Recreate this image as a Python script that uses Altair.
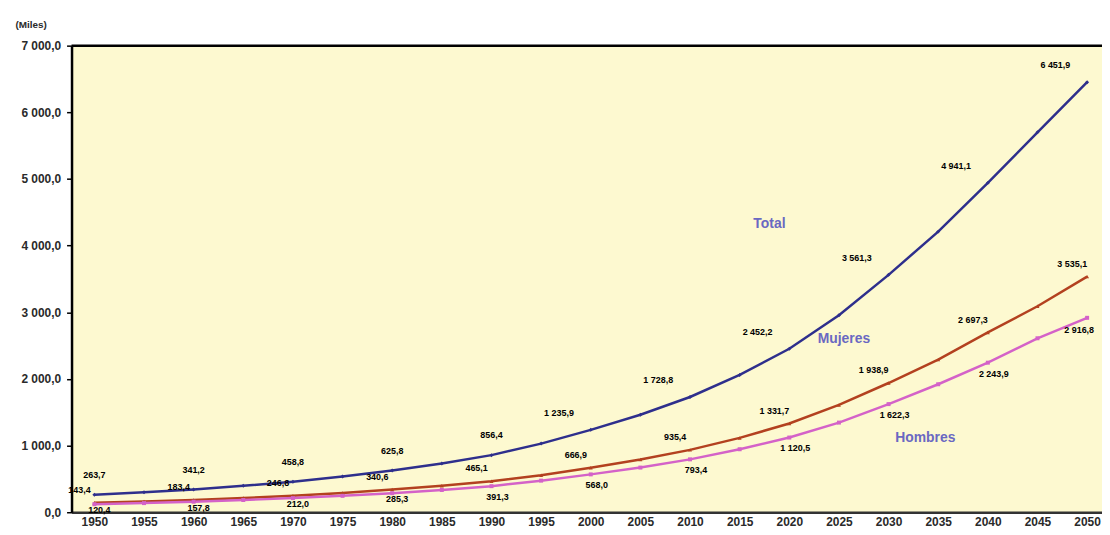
import altair as alt
import pandas as pd

# ---- data ----
years = [1950, 1955, 1960, 1965, 1970, 1975, 1980, 1985, 1990, 1995, 2000,
         2005, 2010, 2015, 2020, 2025, 2030, 2035, 2040, 2045, 2050]
total = [263.7, 300, 341.2, 396, 458.8, 536, 625.8, 732, 856.4, 1030, 1235.9,
         1462, 1728.8, 2060, 2452.2, 2955, 3561.3, 4210, 4941.1, 5700, 6451.9]
mujeres = [143.4, 163, 183.4, 213, 246.8, 290, 340.6, 397, 465.1, 556, 666.9,
           790, 935.4, 1115, 1331.7, 1610, 1938.9, 2290, 2697.3, 3090, 3535.1]
hombres = [120.4, 137, 157.8, 183, 212.0, 246, 285.3, 334, 391.3, 474, 568.0,
           670, 793.4, 945, 1120.5, 1345, 1622.3, 1920, 2243.9, 2610, 2916.8]

series_names = ["Total", "Mujeres", "Hombres"]
series_colors = ["#2E2F8C", "#B3411F", "#D462C8"]
series_shapes = ["diamond", "triangle-up", "square"]

ann_text = ["Total", "Mujeres", "Hombres"]
ann_year = [2018, 2025.5, 2033.7]
ann_value = [4330, 2600, 1116]

y_ticks = [0, 1000, 2000, 3000, 4000, 5000, 6000, 7000]


def fmt(v):
    return f"{v:,.1f}".replace(",", " ").replace(".", ",")


rows = []
for name, vals in zip(series_names, [total, mujeres, hombres]):
    for yr, v in zip(years, vals):
        rows.append({"year": yr, "value": v, "serie": name,
                     "label": fmt(v), "decade": yr % 10 == 0})
df = pd.DataFrame(rows)
ann = pd.DataFrame({"text": ann_text, "year": ann_year, "value": ann_value})

FONT = "Liberation Sans"

x_enc = alt.X("year:Q",
              scale=alt.Scale(domain=[1947.7, 2051.5], nice=False, zero=False),
              axis=alt.Axis(values=years, format="d", title=None, grid=False,
                            ticks=False, labelFontSize=12, labelFontWeight="bold",
                            labelColor="#2a2a2a", labelFont=FONT, labelPadding=4,
                            domainColor="#333333", domainWidth=2.5,
                            labelOverlap=False, labelBound=False))
y_enc = alt.Y("value:Q",
              scale=alt.Scale(domain=[0, 7000], nice=False),
              axis=alt.Axis(values=y_ticks, grid=False, title="(Miles)",
                            labelExpr="datum.value == 0 ? '0,0' : floor(datum.value/1000) + ' 000,0'",
                            labelFontSize=12, labelFontWeight="bold", labelColor="#2a2a2a",
                            labelFont=FONT, labelPadding=6, tickSize=5, tickColor="black",
                            tickWidth=1.5, domainColor="black", domainWidth=2.5,
                            titleAngle=0, titleAlign="left", titleBaseline="bottom",
                            titleX=-57, titleY=-16, titleFontSize=10,
                            titleFontWeight="bold", titleFont=FONT, titleColor="#2a2a2a"))
color_enc = alt.Color("serie:N", scale=alt.Scale(domain=series_names, range=series_colors),
                      legend=None)

base = alt.Chart(df).encode(x=x_enc, y=y_enc, color=color_enc)

lines = base.mark_line(strokeWidth=2.5)
points = base.mark_point(filled=True, size=16, opacity=1).encode(
    shape=alt.Shape("serie:N", scale=alt.Scale(domain=series_names, range=series_shapes),
                    legend=None))


def labels(cond, dx, dy):
    return alt.Chart(df).transform_filter(cond).mark_text(
        font=FONT, fontSize=9, fontWeight="bold", color="black", dx=dx, dy=dy
    ).encode(x="year:Q", y="value:Q", text="label:N")


lab_total_early = labels("datum.serie == 'Total' && datum.decade && datum.year <= 1990", 0, -20)
lab_total_late = labels("datum.serie == 'Total' && datum.decade && datum.year >= 2000", -32, -17)
lab_muj = labels("datum.serie == 'Mujeres' && datum.decade", -15, -13)
lab_hom_early = labels("datum.serie == 'Hombres' && datum.decade && datum.year <= 1980", 5, 6)
lab_hom_mid = labels("datum.serie == 'Hombres' && datum.decade && datum.year >= 1990 && datum.year <= 2040", 6, 11)
lab_hom_end = labels("datum.serie == 'Hombres' && datum.year == 2050", -8, 12)

names = alt.Chart(ann).mark_text(font=FONT, fontSize=14, fontWeight="bold",
                                 color="#6A68C2").encode(
    x="year:Q", y="value:Q", text="text:N")

top_line = alt.Chart(pd.DataFrame({"a": [0]})).mark_rule(
    color="black", strokeWidth=2.5).encode(y=alt.value(0))

chart = alt.layer(lines, points, lab_total_early, lab_total_late, lab_muj,
                  lab_hom_early, lab_hom_mid, lab_hom_end,
                  names, top_line).properties(
    width=1038, height=470,
    padding={"left": 64, "top": 36, "right": 0, "bottom": 21},
    autosize="none",
    background="white",
).configure_view(fill="#FDF9D0", stroke=None)

chart.save("out.html", embed_options={"renderer": "svg", "actions": False})
